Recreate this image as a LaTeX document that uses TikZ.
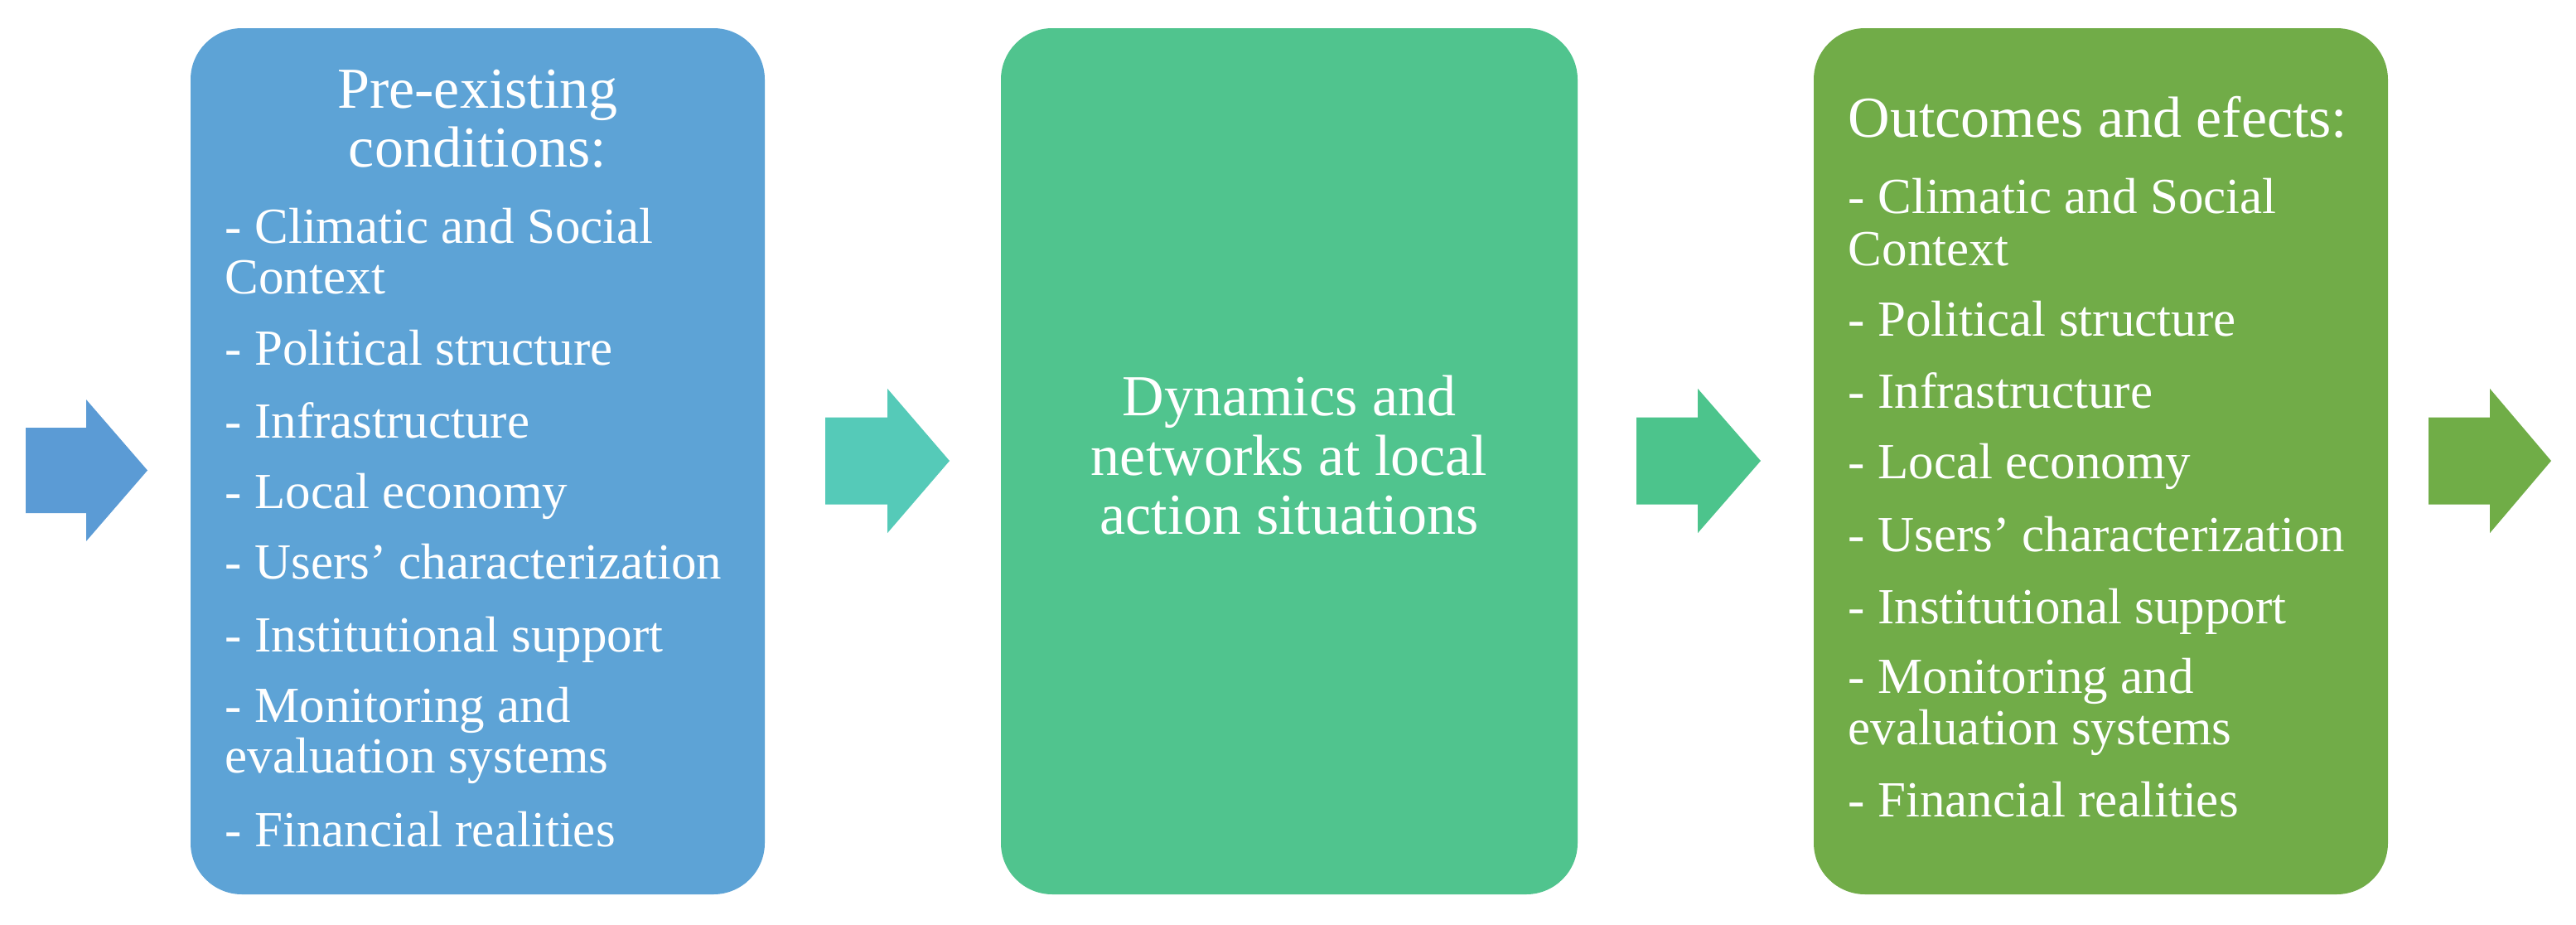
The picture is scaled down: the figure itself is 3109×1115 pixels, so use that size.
\documentclass[tikz,border=0pt]{standalone}
\usepackage{fontspec}
\setmainfont{Liberation Serif}
\definecolor{cArrA}{HTML}{5B9BD5}
\definecolor{cBoxA}{HTML}{5DA3D6}
\definecolor{cArrB}{HTML}{55CAB8}
\definecolor{cBoxB}{HTML}{50C48E}
\definecolor{cArrC}{HTML}{4CC48C}
\definecolor{cBoxC}{HTML}{71AC48}
\definecolor{cArrD}{HTML}{70AD47}
\tikzset{
  procbox/.style={rounded corners=15.5pt, minimum width=173.25pt, minimum height=261.25pt, inner sep=0pt, draw=none},
  ttl/.style={text=white, inner sep=0pt, anchor=base, font=\fontsize{17.5pt}{18pt}\selectfont},
  ttlw/.style={ttl, anchor=base west},
  itm/.style={text=white, inner sep=0pt, anchor=base west, font=\fontsize{15.25pt}{16pt}\selectfont},
}
\newcommand\blockarrow[6]{%
  \fill[#1] (#2,{#5-#6}) -- (#3,{#5-#6}) -- (#3,{#5-1.66*#6}) -- (#4,#5) -- (#3,{#5+1.66*#6}) -- (#3,{#5+#6}) -- (#2,{#5+#6}) -- cycle;}
\begin{document}
\begin{tikzpicture}[x=0.25pt,y=-0.25pt]
\fill[white] (0,0) rectangle (3109,1115);
\useasboundingbox (0,0) rectangle (3109,1115);

% boxes
\node[procbox, fill=cBoxA] (boxA) at (576.5,556.5) {};
\node[procbox, fill=cBoxB, minimum width=174pt] (boxB) at (1556,556.5) {};
\node[procbox, fill=cBoxC] (boxC) at (2535.5,556.5) {};

% arrows
\blockarrow{cArrA}{31}{104}{178}{567.5}{51.5}
\blockarrow{cArrB}{996}{1071}{1146}{556}{52.5}
\blockarrow{cArrC}{1975}{2049}{2125}{556}{52.5}
\blockarrow{cArrD}{2931}{3005}{3079}{556}{52.5}

% box A text
\node[ttl] (aT1) at (576.5,130) {Pre-existing};
\node[ttl] (aT2) at (576.5,201) {conditions:};
\node[itm] (a1) at (271,293) {- Climatic and Social};
\node[itm] (a1b) at (271,354) {Context};
\node[itm] (a2) at (271,440) {- Political structure};
\node[itm] (a3) at (271,528) {- Infrastructure};
\node[itm] (a4) at (271,613) {- Local economy};
\node[itm] (a5) at (271,698) {- Users’ characterization};
\node[itm] (a6) at (271,786) {- Institutional support};
\node[itm] (a7) at (271,871) {- Monitoring and};
\node[itm] (a7b) at (271,932) {evaluation systems};
\node[itm] (a8) at (271,1021) {- Financial realities};

% box B text
\node[ttl] (bT1) at (1556,501) {Dynamics and};
\node[ttl] (bT2) at (1556,573) {networks at local};
\node[ttl] (bT3) at (1556,644) {action situations};

% box C text
\node[ttlw] (cT1) at (2230,165) {Outcomes and efects:};
\node[itm] (c1) at (2230,257) {- Climatic and Social};
\node[itm] (c1b) at (2230,320) {Context};
\node[itm] (c2) at (2230,405) {- Political structure};
\node[itm] (c3) at (2230,492) {- Infrastructure};
\node[itm] (c4) at (2230,577) {- Local economy};
\node[itm] (c5) at (2230,665) {- Users’ characterization};
\node[itm] (c6) at (2230,752) {- Institutional support};
\node[itm] (c7) at (2230,836) {- Monitoring and};
\node[itm] (c7b) at (2230,898) {evaluation systems};
\node[itm] (c8) at (2230,985) {- Financial realities};
\end{tikzpicture}
\end{document}
